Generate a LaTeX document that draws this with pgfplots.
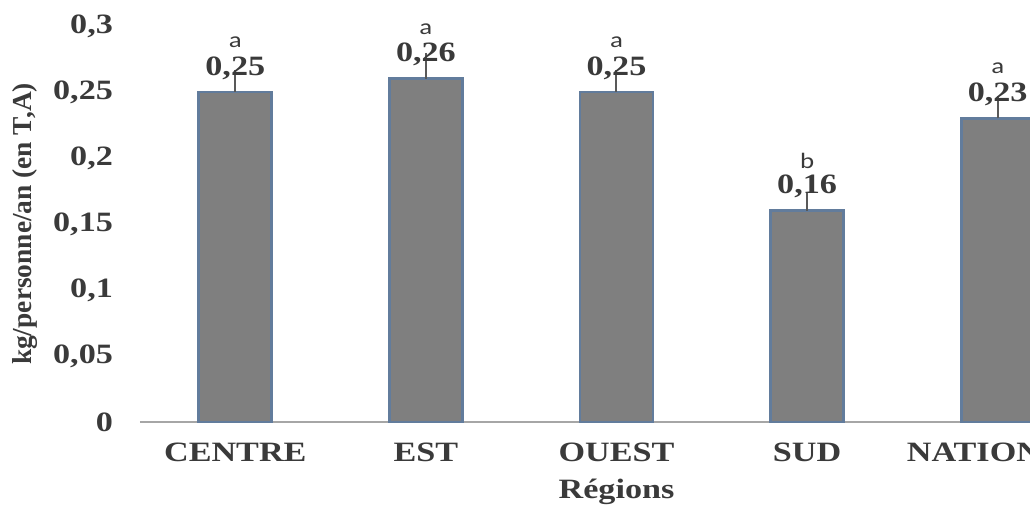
\documentclass[border=0pt]{standalone}
\usepackage{fontspec}
\setmainfont{Liberation Serif}[FakeStretch=1.22]
\newfontfamily\plainserif{Liberation Serif}
\newfontfamily\lettersf{Carlito}[FakeStretch=1.22]
\usepackage{pgfplots}
\usepackage{pgfplotstable}
\pgfplotsset{compat=1.18}
\definecolor{barfill}{HTML}{7F7F7F}
\definecolor{barline}{HTML}{627C9C}
\definecolor{txt}{HTML}{3A3A3A}
\definecolor{axline}{HTML}{A6A6A6}
\definecolor{errc}{HTML}{595959}

\pgfplotstableread{
x y err
0 0.25 0.011
1 0.26 0.014
2 0.25 0.011
3 0.16 0.008
4 0.23 0.011
}\datatable

\begin{document}
\begin{tikzpicture}
\begin{axis}[
  at={(0,0)}, anchor=south west,
  scale only axis, width=476.5pt, height=198pt,
  xmin=-0.5, xmax=4.5, ymin=0, ymax=0.3,
  ybar, bar width=36.5pt,
  xtick={0,1,2,3,4},
  xticklabels={CENTRE,EST,OUEST,SUD,NATIONAL},
  ytick={0,0.05,0.1,0.15,0.2,0.25,0.3},
  yticklabels={0,{0,05},{0,1},{0,15},{0,2},{0,25},{0,3}},
  axis x line*=bottom, axis y line*=left,
  x axis line style={axline, line width=1pt, -},
  y axis line style={draw=none},
  tick style={draw=none},
  major tick length=0pt,
  xticklabel style={font=\fontsize{14}{14}\selectfont\bfseries, text=txt, anchor=center, yshift=-15pt},
  yticklabel style={font=\fontsize{14}{14}\selectfont\bfseries, text=txt, anchor=east, xshift=-10pt},
  xlabel={Régions},
  xlabel style={at={([yshift=-35pt]axis description cs:0.5,0)}, anchor=center, font=\fontsize{14}{14}\selectfont\bfseries, text=txt},
  ylabel={kg/personne/an (en T,A)},
  ylabel style={at={([xshift=-57.5pt]axis description cs:0,0.5)}, anchor=center, font=\plainserif\bfseries\fontsize{13.7}{14}\selectfont, text=txt},
  clip=false,
]
\addplot[fill=barfill, draw=barline, line width=1.4pt,
  error bars/.cd, y dir=plus, y explicit,
  error bar style={errc, line width=1pt},
  error mark options={errc, line width=1pt, mark size=3.75pt}]
  table[x=x, y=y, y error=err]{\datatable};

\foreach \i/\v/\t/\l in {0/0.25/{0,25}/a, 1/0.26/{0,26}/a, 2/0.25/{0,25}/a, 3/0.16/{0,16}/b, 4/0.23/{0,23}/a}{
  \edef\temp{\noexpand\node[anchor=center, yshift=12pt, text=txt, font=\noexpand\fontsize{14}{14}\noexpand\selectfont\noexpand\bfseries] at (axis cs:\i,\v) {\t};
  \noexpand\node[anchor=center, yshift=25pt, text=txt, font=\noexpand\lettersf\noexpand\fontsize{11}{11}\noexpand\selectfont] at (axis cs:\i,\v) {\l};}
  \temp
}
\end{axis}
\pgfresetboundingbox
\useasboundingbox (-70pt,-42pt) rectangle (445pt,211pt);
\end{tikzpicture}
\end{document}
